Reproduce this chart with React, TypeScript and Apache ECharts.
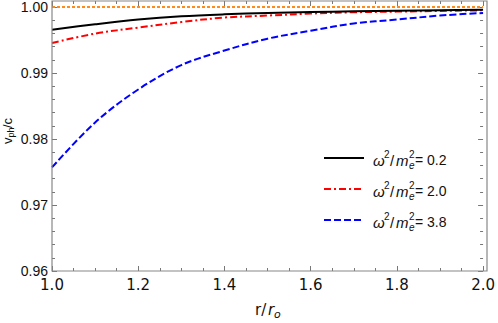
import React, { useEffect, useRef } from 'react';
import * as echarts from 'echarts';

// r / r_o sample positions
const rValues = [1.0, 1.1, 1.2, 1.3, 1.4, 1.5, 1.6, 1.7, 1.8, 1.9, 2.0];
// v_ph / c for omega^2/m_e^2 = 0.2, 2.0, 3.8
const vph02 = [0.99657, 0.99738, 0.99809, 0.99859, 0.99889, 0.99909, 0.99924, 0.99935, 0.99945, 0.99952, 0.99958];
const vph20 = [0.99455, 0.99597, 0.99688, 0.99772, 0.9984, 0.9987, 0.999, 0.9992, 0.9993, 0.9994, 0.9995];
const vph38 = [0.9757, 0.9825, 0.9875, 0.9912, 0.9934, 0.9952, 0.9964, 0.9975, 0.9981, 0.9987, 0.9991];
// light-speed reference line
const refR = [1.0, 2.0];
const refV = [1.0, 1.0];
const legendValues = ['0.2', '2.0', '3.8'];
const seriesColors = ['#000000', '#ff0000', '#0000ff'];

const ARIAL = '"Liberation Sans", Arial, sans-serif';
const TAHOMA = '"DejaVu Sans", Verdana, sans-serif';

function zip(xs: number[], ys: number[]) {
  return xs.map((x, i) => [x, ys[i]]);
}

function legendRow(y: number, val: string, color: string, dash: number[] | null) {
  const t = (x: number, yy: number, text: string, size: number, italic = false) => ({
    type: 'text',
    x,
    y: yy,
    silent: true,
    style: {
      text,
      fill: '#111',
      font: `${italic ? 'italic ' : ''}${size}px ${ARIAL}`,
      verticalAlign: 'middle',
      align: 'left',
    },
  });
  return [
    {
      type: 'line',
      silent: true,
      shape: { x1: 324, y1: y, x2: 364, y2: y },
      style: { stroke: color, lineWidth: 2, lineDash: dash || undefined },
    },
    t(373, y + 2, 'ω', 15, true),
    t(384, y - 4, '2', 10),
    t(390, y + 2, '/', 15),
    t(396, y + 2, 'm', 15, true),
    t(409, y - 4, '2', 10),
    t(409, y + 7, 'e', 10, true),
    t(415, y + 2, '= ' + val, 14),
  ];
}

export default function App() {
  const ref = useRef<HTMLDivElement>(null);
  useEffect(() => {
    if (!ref.current) return;
    const chart = echarts.init(ref.current, null, { renderer: 'svg' });
    const dashes: (number[] | null)[] = [null, [7, 3, 2, 3], [7, 3]];
    const tickStyle = { color: '#777', width: 1 };
    const option: any = {
      animation: false,
      grid: { left: 52, right: 11, top: 7, bottom: 52 },
      xAxis: [
        {
          type: 'value',
          min: 1,
          max: 2,
          interval: 0.2,
          position: 'bottom',
          axisLine: { show: false },
          axisTick: { show: true, inside: true, length: 5, lineStyle: tickStyle },
          minorTick: { show: true, splitNumber: 4, length: 3, lineStyle: tickStyle },
          splitLine: { show: false },
          axisLabel: {
            margin: 6,
            formatter: (v: number) => v.toFixed(1),
            fontFamily: TAHOMA,
            fontSize: 15,
            color: '#111',
          },
        },
        {
          type: 'value',
          min: 1,
          max: 2,
          interval: 0.2,
          position: 'top',
          offset: 6,
          axisLine: { show: false },
          axisTick: { show: true, inside: true, length: 5, lineStyle: tickStyle },
          minorTick: { show: true, splitNumber: 4, length: 3, lineStyle: tickStyle },
          splitLine: { show: false },
          axisLabel: { show: false },
        },
      ],
      yAxis: [
        {
          type: 'value',
          min: 0.96,
          max: 1.0,
          interval: 0.01,
          position: 'left',
          axisLine: { show: false },
          axisTick: { show: true, inside: true, length: 5, lineStyle: tickStyle },
          minorTick: { show: true, splitNumber: 5, length: 3, lineStyle: tickStyle },
          splitLine: { show: false },
          axisLabel: {
            margin: 4,
            formatter: (v: number) => v.toFixed(2),
            fontFamily: ARIAL,
            fontSize: 14,
            color: '#111',
          },
        },
        {
          type: 'value',
          min: 0.96,
          max: 1.0,
          interval: 0.01,
          position: 'right',
          axisLine: { show: false },
          axisTick: { show: true, inside: true, length: 5, lineStyle: tickStyle },
          minorTick: { show: true, splitNumber: 5, length: 3, lineStyle: tickStyle },
          splitLine: { show: false },
          axisLabel: { show: false },
        },
      ],
      series: [
        {
          name: 'ω²/m²ₑ = 3.8',
          type: 'line',
          data: zip(rValues, vph38),
          symbol: 'none',
          smooth: 0.35,
          clip: false,
          lineStyle: { color: seriesColors[2], width: 2, type: dashes[2] },
        },
        {
          name: 'ω²/m²ₑ = 2.0',
          type: 'line',
          data: zip(rValues, vph20),
          symbol: 'none',
          smooth: 0.35,
          clip: false,
          lineStyle: { color: seriesColors[1], width: 2, type: dashes[1] },
        },
        {
          name: 'ω²/m²ₑ = 0.2',
          type: 'line',
          data: zip(rValues, vph02),
          symbol: 'none',
          smooth: 0.35,
          clip: false,
          lineStyle: { color: seriesColors[0], width: 2 },
        },
        {
          name: 'c',
          type: 'line',
          data: zip(refR, refV),
          symbol: 'none',
          clip: false,
          lineStyle: { color: '#ff8c1a', width: 2, type: [3, 2] },
        },
      ],
      graphic: [
        {
          type: 'rect',
          silent: true,
          shape: { x: 52, y: 1, width: 435, height: 270 },
          style: { fill: 'none', stroke: '#888', lineWidth: 1.2 },
          z: 10,
        },
        ...legendValues.flatMap((v, i) => legendRow(158 + i * 31, v, seriesColors[i], dashes[i])),
        {
          type: 'group',
          x: 7.5,
          y: 144,
          rotation: Math.PI / 2,
          children: [
            { type: 'text', x: 0, y: 0, style: { text: 'v', font: `13px ${ARIAL}`, fill: '#111', verticalAlign: 'middle' } },
            { type: 'text', x: 6.5, y: 3, style: { text: 'ph', font: `9px ${ARIAL}`, fill: '#111', verticalAlign: 'middle' } },
            { type: 'text', x: 16, y: 0, style: { text: '/c', font: `13px ${ARIAL}`, fill: '#111', verticalAlign: 'middle' } },
          ],
        },
        { type: 'text', x: 255, y: 310, style: { text: 'r/', font: `15px ${TAHOMA}`, fill: '#111', verticalAlign: 'middle' } },
        { type: 'text', x: 268, y: 310, style: { text: 'r', font: `italic 15px ${TAHOMA}`, fill: '#111', verticalAlign: 'middle' } },
        { type: 'text', x: 274, y: 314, style: { text: 'o', font: `italic 11px ${TAHOMA}`, fill: '#111', verticalAlign: 'middle' } },
      ],
    };
    chart.setOption(option);
    return () => chart.dispose();
  }, []);
  return (
    <div
      ref={ref}
      style={{ position: 'fixed', left: 0, top: 0, width: 498, height: 323, background: '#fff' }}
    />
  );
}
